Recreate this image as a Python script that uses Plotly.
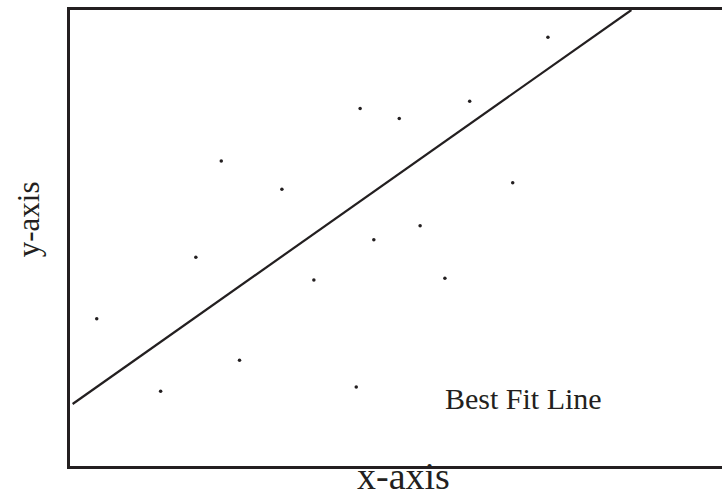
import plotly.graph_objects as go

# scatter data
pts_x = [0.41, 1.39, 1.93, 2.32, 2.60, 3.25, 3.74, 4.39, 4.45, 4.66, 5.05, 5.37, 5.75, 6.13, 6.79, 7.33]
pts_y = [3.23, 1.64, 4.58, 6.69, 2.32, 6.07, 4.08, 1.73, 7.84, 4.96, 7.62, 5.27, 4.12, 8.00, 6.21, 9.40]

# best fit line endpoints
fit_x = [0.04, 8.61]
fit_y = [1.36, 10.0]

x_title = "x-axis"
y_title = "y-axis"
line_label = "Best Fit Line"

ink = "#231f20"
font_family = "Liberation Serif, Times New Roman, serif"

fig = go.Figure()
fig.add_trace(go.Scatter(x=fit_x, y=fit_y, mode="lines",
                         line=dict(color=ink, width=2.2), hoverinfo="skip"))
fig.add_trace(go.Scatter(x=pts_x, y=pts_y, mode="markers",
                         marker=dict(color=ink, size=3.5, line=dict(width=0))))

fig.add_annotation(x=6.95, y=1.49, xref="x", yref="y", text=line_label,
                   showarrow=False, xanchor="center", yanchor="middle",
                   font=dict(family=font_family, size=30, color=ink))
fig.add_annotation(x=0.512, y=0, xref="paper", yref="paper", text=x_title,
                   showarrow=False, xanchor="center", yanchor="top", yshift=13,
                   font=dict(family=font_family, size=38, color=ink))
fig.add_annotation(x=0, y=0.54, xref="paper", yref="paper", text=y_title,
                   showarrow=False, xanchor="right", yanchor="middle", xshift=-22,
                   textangle=-90,
                   font=dict(family=font_family, size=31, color=ink))

fig.update_xaxes(range=[0, 10], showgrid=False, zeroline=False, showticklabels=False,
                 ticks="", showline=True, linecolor=ink, linewidth=2.5, mirror=True)
fig.update_yaxes(range=[0, 10], showgrid=False, zeroline=False, showticklabels=False,
                 ticks="", showline=True, linecolor=ink, linewidth=2.5, mirror=False)

fig.update_layout(width=722, height=493, showlegend=False,
                  margin=dict(l=70, r=0, t=10, b=27),
                  plot_bgcolor="white", paper_bgcolor="white")

fig.write_html("out.html", config={"displayModeBar": False},
               post_script="document.body.style.margin='0';document.body.style.overflow='hidden';")
